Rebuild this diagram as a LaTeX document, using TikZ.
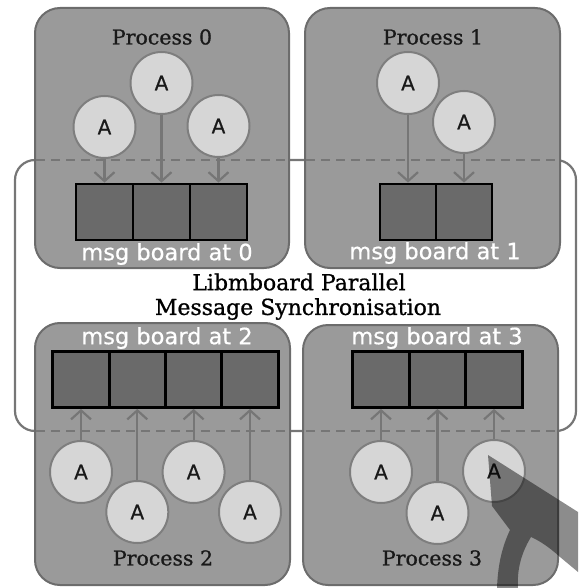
\documentclass[tikz,border=0pt]{standalone}
\usepackage{fontspec}
\setmainfont{DejaVu Serif}
\newfontface\serifheavy{DejaVu Serif}[FakeBold=0.9]
\newfontface\lblfont{DejaVu Sans}[FakeBold=0.6]
\usetikzlibrary{arrows.meta}
\definecolor{boxfill}{HTML}{9A9A9A}
\definecolor{boxline}{HTML}{6C6C6C}
\definecolor{circfill}{HTML}{D6D6D6}
\definecolor{circline}{HTML}{7E7E7E}
\definecolor{cellfill}{HTML}{6A6A6A}
\definecolor{wire}{HTML}{767676}
\tikzset{
  procbox/.style={draw=boxline, fill=boxfill, line width=2pt, rounded corners=25pt, inner sep=0pt},
  agent/.style={circle, draw=circline, fill=circfill, line width=2pt, minimum size=62pt, inner sep=0pt,
    font=\lblfont\fontsize{20}{22}\selectfont, text=black!90},
  cell/.style={draw=black, fill=cellfill, line width=2.8pt, minimum height=56pt, inner sep=0pt},
  msglbl/.style={text=white, font=\lblfont\fontsize{22.5}{24}\selectfont, inner sep=0pt},
  proclbl/.style={text=black!90, font=\serifheavy\fontsize{20.5}{24}\selectfont, inner sep=0pt},
  titlelbl/.style={text=black, font=\serifheavy\fontsize{22}{25}\selectfont, inner sep=0pt},
  post/.style={draw=wire, line width=2.2pt, -{Straight Barb[length=9pt,width=20pt,line width=2.2pt]}},
  sync/.style={draw=wire, line width=2.2pt},
  syncdash/.style={draw=wire, line width=2.2pt, dash pattern=on 9pt off 6pt},
}
\begin{document}
\begin{tikzpicture}[x=1pt,y=-1pt]
\useasboundingbox (0,0) rectangle (578,588);
% outer synchronisation loop
\coordinate (loopTL) at (15,160);
\coordinate (loopBR) at (576,431);
\draw[sync, rounded corners=20pt] (loopTL) rectangle (loopBR);

% process boxes
\node[procbox, minimum width=254pt, minimum height=260pt] (p0) at (162,138) {};
\node[procbox, minimum width=255pt, minimum height=260pt] (p1) at (432.5,138) {};
\node[procbox, minimum width=255pt, minimum height=262pt] (p2) at (162.5,454) {};
\node[procbox, minimum width=255pt, minimum height=260pt] (p3) at (430.5,455) {};

% dashed sync lines across the boxes
\coordinate (dtl) at (36,160);
\coordinate (dtr) at (559,160);
\coordinate (dbl) at (36,431);
\coordinate (dbr) at (557,431);
\draw[syncdash] (dtl) -- (dtr);
\draw[syncdash] (dbl) -- (dbr);

% labels
\node[proclbl] (l0) at (162,37) {Process 0};
\node[proclbl] (l1) at (433,37) {Process 1};
\node[proclbl] (l2) at (163,558) {Process 2};
\node[proclbl] (l3) at (432,558) {Process 3};
\node[titlelbl] (t1) at (299,282) {Libmboard Parallel};
\node[titlelbl] (t2) at (298,309) {Message Synchronisation};

% message boards
\foreach \i/\x in {1/104.5,2/161.5,3/218.5}
  \node[cell, minimum width=57pt] (m0\i) at (\x,212) {};
\foreach \i/\x in {1/408,2/464}
  \node[cell, minimum width=56pt] (m1\i) at (\x,212) {};
\foreach \i/\x in {1/81,2/137.3,3/193.6,4/250}
  \node[cell, minimum width=56.3pt] (m2\i) at (\x,379.5) {};
\foreach \i/\x in {1/381,2/437.5,3/494}
  \node[cell, minimum width=56.5pt] (m3\i) at (\x,379.5) {};

\node[msglbl] (b0) at (167,254) {msg board at 0};
\node[msglbl] (b1) at (435,253) {msg board at 1};
\node[msglbl] (b2) at (167,338) {msg board at 2};
\node[msglbl] (b3) at (437,338) {msg board at 3};

% agents
\node[agent] (a01) at (104.5,127) {A};
\node[agent] (a02) at (161.5,83) {A};
\node[agent] (a03) at (218.5,126) {A};
\node[agent] (a11) at (408,83) {A};
\node[agent] (a12) at (464,122) {A};
\node[agent] (a21) at (81,472) {A};
\node[agent] (a22) at (137.3,512) {A};
\node[agent] (a23) at (193.6,472) {A};
\node[agent] (a24) at (250,512) {A};
\node[agent] (a31) at (381,472) {A};
\node[agent] (a32) at (437.5,513) {A};
\node[agent] (a33) at (494,471) {A};

% posting arrows
\foreach \a in {01,02,03,11,12}
  \draw[post] (a\a.south) -- (m\a.north);
\foreach \a in {21,22,23,24,31,32,33}
  \draw[post] (a\a.north) -- (m\a.south);

% pointer overlay in the corner
\fill[black, opacity=0.45] (488,455) -- (578,512) -- (578,572) -- (560,557)
  .. controls (548,546) and (538,540) .. (531,537)
  .. controls (520,555) and (517,572) .. (518,588)
  -- (497,588)
  .. controls (498,562) and (503,545) .. (510,530)
  -- (492,506) -- cycle;
\end{tikzpicture}
\end{document}
